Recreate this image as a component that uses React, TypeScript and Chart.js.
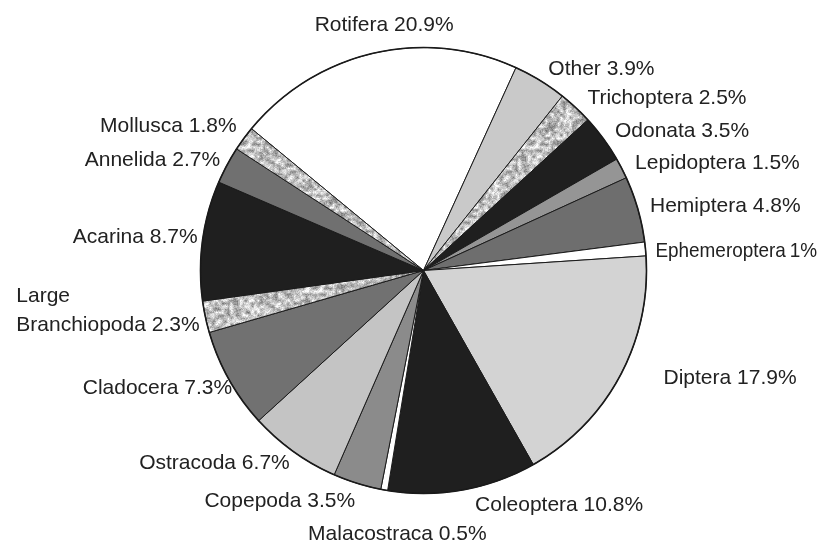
import { useEffect, useRef } from "react";
import { Chart, registerables } from "chart.js";

Chart.register(...registerables);

const categories = [
  "Rotifera", "Other", "Trichoptera", "Odonata", "Lepidoptera", "Hemiptera",
  "Ephemeroptera", "Diptera", "Coleoptera", "Malacostraca", "Copepoda",
  "Ostracoda", "Cladocera", "Large Branchiopoda", "Acarina", "Annelida", "Mollusca",
];
const percentages = [20.9, 3.9, 2.5, 3.5, 1.5, 4.8, 1, 17.9, 10.8, 0.5, 3.5, 6.7, 7.3, 2.3, 8.7, 2.7, 1.8];
const labelLines = [
  ["Rotifera 20.9%"], ["Other 3.9%"], ["Trichoptera 2.5%"], ["Odonata 3.5%"],
  ["Lepidoptera 1.5%"], ["Hemiptera 4.8%"], ["Ephemeroptera\u20091%"], ["Diptera 17.9%"],
  ["Coleoptera 10.8%"], ["Malacostraca 0.5%"], ["Copepoda 3.5%"], ["Ostracoda 6.7%"],
  ["Cladocera 7.3%"], ["Large", "Branchiopoda 2.3%"], ["Acarina 8.7%"], ["Annelida 2.7%"], ["Mollusca 1.8%"],
];
// fill kinds: colour string, or "speckle"
const fills = [
  "#ffffff", "#c9c9c9", "speckle", "#1f1f1f", "#959595", "#6e6e6e",
  "#ffffff", "#d3d3d3", "#1f1f1f", "#ffffff", "#8b8b8b",
  "#c4c4c4", "#717171", "speckle", "#1f1f1f", "#707070", "speckle",
];
const labelAlign = [
  "center", "left", "left", "left", "left", "left", "left", "left",
  "left", "center", "right", "right", "right", "right", "right", "right", "right",
];
const labelNudge = [
  [13, -18], [3, -3], [5, -2], [3.5, -2], [4.5, -1], [2.5, 0], [0, 3], [35, -3],
  [10.6, 5.6], [15, 34], [1, 8], [2, 3], [12, 4], [4, -8], [5, -2], [2, 0], [1, -6],
];

function hash(x: number, y: number, s: number) {
  let n = Math.imul(x, 374761393) + Math.imul(y, 668265263) + Math.imul(s, 1442695041);
  n = Math.imul(n ^ (n >>> 13), 1274126177);
  n = n ^ (n >>> 16);
  return (n >>> 0) / 4294967296;
}

function makeSpeckle(): CanvasPattern | string {
  const size = 72;
  const c = document.createElement("canvas");
  c.width = size;
  c.height = size;
  const g = c.getContext("2d");
  if (!g) return "#bbbbbb";
  const img = g.createImageData(size, size);
  const cell = (cx: number, cy: number) => {
    const w = ((cx % 24) + 24) % 24;
    const h = ((cy % 24) + 24) % 24;
    return hash(w, h, 7);
  };
  for (let y = 0; y < size; y++) {
    for (let x = 0; x < size; x++) {
      const cx = Math.floor(x / 3), cy = Math.floor(y / 3);
      const fx = (x % 3) / 3, fy = (y % 3) / 3;
      const a = cell(cx, cy), b = cell(cx + 1, cy), d = cell(cx, cy + 1), e = cell(cx + 1, cy + 1);
      const s = (a * (1 - fx) + b * fx) * (1 - fy) + (d * (1 - fx) + e * fx) * fy;
      const fine = hash(x, y, 2);
      let v = 130 + s * 125 + (fine - 0.5) * 50;
      v = Math.max(90, Math.min(252, v));
      const k = (y * size + x) * 4;
      img.data[k] = v;
      img.data[k + 1] = v;
      img.data[k + 2] = v;
      img.data[k + 3] = 255;
    }
  }
  g.putImageData(img, 0, 0);
  const p = g.createPattern(c, "repeat");
  return p || "#bbbbbb";
}

const labelPlugin = {
  id: "outerLabels",
  afterDatasetsDraw(chart: any) {
    const ctx = chart.ctx as CanvasRenderingContext2D;
    const meta = chart.getDatasetMeta(0);
    ctx.save();
    // slightly heavier outer rim, as in the reference
    const a0 = meta.data[0].getProps(["x", "y", "outerRadius"], true);
    ctx.beginPath();
    ctx.arc(a0.x, a0.y, a0.outerRadius, 0, Math.PI * 2);
    ctx.lineWidth = 1.6;
    ctx.strokeStyle = "#1a1a1a";
    ctx.stroke();

    ctx.font = '21px "Liberation Sans", Arial, sans-serif';
    ctx.fillStyle = "#222222";
    ctx.textBaseline = "middle";
    const lineH = 29;
    meta.data.forEach((arc: any, i: number) => {
      const p = arc.getProps(["x", "y", "startAngle", "endAngle", "outerRadius"], true);
      const mid = (p.startAngle + p.endAngle) / 2;
      const r = p.outerRadius + 10;
      const ax = p.x + Math.cos(mid) * r + labelNudge[i][0];
      const ay = p.y + Math.sin(mid) * r + labelNudge[i][1];
      const lines = labelLines[i];
      const widths = lines.map((l) => ctx.measureText(l).width);
      const maxW = Math.max(...widths);
      let left = ax;
      if (labelAlign[i] === "right") left = ax - maxW;
      else if (labelAlign[i] === "center") left = ax - maxW / 2;
      const top = ay - ((lines.length - 1) * lineH) / 2;
      const room = chart.width - left - 14;
      ctx.textAlign = "left";
      lines.forEach((l, j) => {
        ctx.fillText(l, left, top + j * lineH, Math.max(room, 10));
      });
    });
    ctx.restore();
  },
};

export default function App() {
  const ref = useRef<HTMLCanvasElement | null>(null);
  useEffect(() => {
    if (!ref.current) return;
    const speckle = makeSpeckle();
    const bg = fills.map((f) => (f === "speckle" ? speckle : f));
    const chart = new Chart(ref.current, {
      type: "pie",
      data: {
        labels: categories,
        datasets: [
          {
            data: percentages,
            backgroundColor: bg as any,
            borderColor: "#1a1a1a",
            borderWidth: 1,
          },
        ],
      },
      options: {
        responsive: false,
        animation: false,
        rotation: -50.5,
        layout: { padding: { top: 47, bottom: 51, left: 16, right: 0 } },
        plugins: {
          legend: { display: false },
          tooltip: { enabled: false },
        },
      },
      plugins: [labelPlugin],
    });
    return () => chart.destroy();
  }, []);
  return (
    <div style={{ position: "fixed", left: 0, top: 0, width: 831, height: 545, background: "#ffffff" }}>
      <canvas ref={ref} width={831} height={545} />
    </div>
  );
}
